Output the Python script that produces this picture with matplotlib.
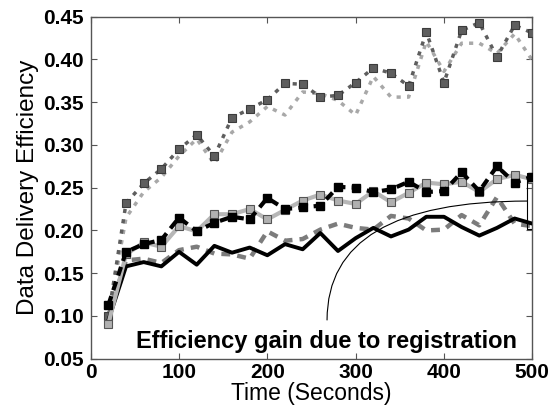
import matplotlib
matplotlib.use("Agg")
import matplotlib.pyplot as plt
import numpy as np

plt.rcParams['font.family'] = ['Liberation Sans', 'DejaVu Sans']

time = [20, 40, 60, 80, 100, 120, 140, 160, 180, 200, 220, 240, 260, 280, 300,
        320, 340, 360, 380, 400, 420, 440, 460, 480, 500]

dark_sq = [0.100, 0.232, 0.255, 0.272, 0.295, 0.312, 0.287, 0.332, 0.342, 0.353, 0.372, 0.371,
           0.356, 0.358, 0.373, 0.390, 0.384, 0.369, 0.432, 0.373, 0.434, 0.443, 0.403, 0.440, 0.431]
light_dot = [0.100, 0.215, 0.245, 0.262, 0.287, 0.307, 0.278, 0.315, 0.327, 0.345, 0.335, 0.362,
             0.360, 0.352, 0.335, 0.380, 0.356, 0.356, 0.421, 0.386, 0.419, 0.419, 0.407, 0.430, 0.399]
black_dash = [0.113, 0.175, 0.184, 0.189, 0.215, 0.199, 0.209, 0.216, 0.213, 0.238, 0.225, 0.227,
              0.229, 0.251, 0.250, 0.245, 0.248, 0.257, 0.245, 0.246, 0.268, 0.246, 0.275, 0.256, 0.263]
light_sq = [0.091, 0.172, 0.186, 0.181, 0.205, 0.199, 0.219, 0.219, 0.225, 0.213, 0.224, 0.235,
            0.242, 0.235, 0.231, 0.246, 0.233, 0.244, 0.256, 0.254, 0.257, 0.245, 0.260, 0.265, 0.260]
gray_dash = [0.100, 0.165, 0.167, 0.162, 0.177, 0.181, 0.173, 0.172, 0.167, 0.199, 0.188, 0.190,
             0.201, 0.208, 0.203, 0.201, 0.217, 0.214, 0.200, 0.201, 0.218, 0.206, 0.239, 0.208, 0.205]
black_solid = [0.095, 0.158, 0.163, 0.158, 0.175, 0.160, 0.182, 0.174, 0.180, 0.171, 0.184, 0.178,
               0.197, 0.176, 0.191, 0.203, 0.193, 0.201, 0.216, 0.216, 0.204, 0.194, 0.203, 0.214, 0.208]

xticks = [0, 100, 200, 300, 400, 500]
yticks = [0.05, 0.10, 0.15, 0.20, 0.25, 0.30, 0.35, 0.40, 0.45]
annot_text = "Efficiency gain due to registration"

fig = plt.figure(figsize=(5.59, 4.19), dpi=100)
ax = fig.add_axes([0.1623, 0.1439, 0.9522 - 0.1623, 0.9601 - 0.1439])

ax.plot(time, light_dot, color='#a8a8a8', lw=2.5, ls=(0, (1.2, 1.8)), zorder=2)
ax.plot(time, dark_sq, color='#5e5e5e', lw=2.5, ls=(0, (1.2, 1.8)), marker='s', ms=6,
        mfc='#5e5e5e', mec='#3c3c3c', mew=0.8, zorder=3)
ax.plot(time, gray_dash, color='#7c7c7c', lw=3.2, ls=(0, (2, 1.6)), zorder=2)
ax.plot(time, black_solid, color='black', lw=2.8, zorder=3)
ax.plot(time, light_sq, color='#b6b6b6', lw=3, marker='s', ms=6,
        mfc='#b0b0b0', mec='#555555', mew=0.8, zorder=4)
ax.plot(time, black_dash, color='black', lw=3, ls=(0, (2.2, 1.5)), marker='s', ms=6,
        mfc='black', mec='black', zorder=5)

ax.set_xlim(0, 500)
ax.set_ylim(0.05, 0.45)
ax.set_xticks(xticks)
ax.set_yticks(yticks)
ax.set_xticklabels([str(t) for t in xticks], fontweight='bold', fontsize=15)
ax.set_yticklabels(["%.2f" % t for t in yticks], fontweight='bold', fontsize=15)
ax.tick_params(direction='in', top=True, right=True, length=4, color='#555555')
ax.tick_params(axis='x', pad=3)
ax.tick_params(axis='y', pad=5)
for s in ax.spines.values():
    s.set_color('#555555')
    s.set_linewidth(1.0)

ax.set_xlabel("Time (Seconds)", fontsize=16.5, labelpad=0)
ax.set_ylabel("Data Delivery Efficiency", fontsize=17.5, labelpad=3)

# bracket showing the gain
bx0, by0, by1 = 494.4, 0.202, 0.2675
ax.plot([500, bx0, bx0, 500], [by1, by1, by0, by0], color='black', lw=0.8, zorder=6)

ax.annotate("", xy=(bx0, 0.2344), xytext=(267.6, 0.0953),
            arrowprops=dict(arrowstyle='-', color='black', lw=0.8,
                            connectionstyle="angle3,angleA=90,angleB=0",
                            shrinkA=0, shrinkB=0), zorder=6)
ax.text(266.5, 0.0696, annot_text, fontsize=17, fontweight='bold',
        ha='center', va='center', zorder=7)

fig.savefig("out.png", dpi=100)
